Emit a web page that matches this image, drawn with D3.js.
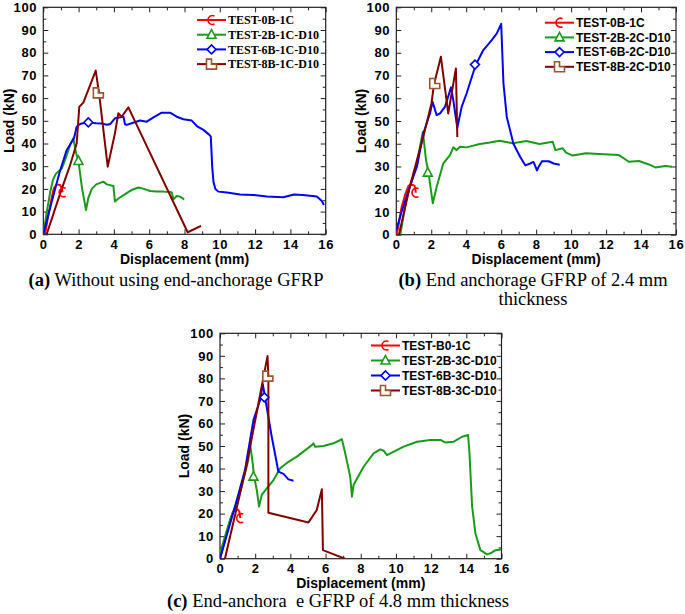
<!DOCTYPE html>
<html><head><meta charset="utf-8">
<script src="https://cdn.jsdelivr.net/npm/d3@7/dist/d3.min.js"></script>
<style>
body{margin:0;background:#fff;}
svg{display:block;}
.tick text{font-family:"Liberation Sans",Arial,sans-serif;font-weight:bold;font-size:13px;fill:#000;letter-spacing:0.7px;}
</style></head>
<body>
<svg id="chart" width="685" height="614"></svg>
<script>
// ---------- tick values ----------
const xTicks = [0, 2, 4, 6, 8, 10, 12, 14, 16];
const xMinor = [1, 3, 5, 7, 9, 11, 13, 15];
const yTicks = [0, 10, 20, 30, 40, 50, 60, 70, 80, 90, 100];
const yMinor = [5, 15, 25, 35, 45, 55, 65, 75, 85, 95];

// ---------- series names ----------
const namesA = ["TEST-0B-1C", "TEST-2B-1C-D10", "TEST-6B-1C-D10", "TEST-8B-1C-D10"];
const namesB = ["TEST-0B-1C", "TEST-2B-2C-D10", "TEST-6B-2C-D10", "TEST-8B-2C-D10"];
const namesC = ["TEST-B0-1C", "TEST-2B-3C-D10", "TEST-6B-3C-D10", "TEST-8B-3C-D10"];

// ---------- panel (a) data [displacement mm, load kN] ----------
const a_red = [[0.1,0],[0.3,9],[0.5,17],[0.6,20.3],[0.76,22],[0.95,21.7],[1.04,20.3],[1.1,18.5]];
const a_green = [[0,0],[0.2,10],[0.4,19],[0.55,24],[0.7,26.5],[0.9,28],[1.05,29],[1.2,32],[1.4,36.5],[1.55,40],[1.7,42.3],[1.85,36],[1.99,32.3],[2.2,20],[2.42,10.7],[2.55,16],[2.75,20],[3.0,22],[3.4,23.2],[3.6,22],[3.97,21.3],[4.06,14.4],[4.3,16],[4.7,18],[5.0,19.5],[5.39,20.6],[5.7,20],[6.05,19.1],[6.4,18.9],[6.8,18.8],[7.28,18.5],[7.37,15.4],[7.56,16.9],[7.75,16.6],[7.98,15.4]];
const a_blue = [[0,0],[0.3,9],[0.6,18],[0.95,28],[1.32,37],[1.74,42.3],[1.89,47.4],[2.08,48.6],[2.3,49],[2.5,49.3],[3.0,48.9],[3.3,48.8],[3.6,48.3],[3.8,48.6],[4.06,51.1],[4.54,51.8],[4.63,48.5],[4.73,48.2],[5.0,48.9],[5.48,50.1],[5.86,49.6],[6.24,51.5],[6.71,53.6],[7.18,53.6],[7.56,51.8],[7.94,50.7],[8.41,50.1],[8.7,47.7],[9.07,46],[9.41,43.8],[9.49,43],[9.57,29.8],[9.64,23.2],[9.75,20],[9.92,18.8],[10.4,18.4],[11.15,17.5],[11.9,17.3],[12.66,16.6],[13.6,16.3],[14.2,17.5],[14.7,17.3],[15.5,16.6],[15.78,14.7],[15.9,12.9]];
const a_brown = [[0.19,0],[1.0,19],[1.5,30],[1.89,40],[2.04,56.2],[2.27,58],[2.97,72.1],[3.16,62.1],[3.65,29.8],[4.06,44.5],[4.25,53.3],[4.44,51.8],[4.82,55.9],[8.18,0.9],[8.94,3.7]];
const a_marks = [[1.1,18.5],[1.99,32.3],[2.55,49.3],[3.12,62.3]];

// ---------- panel (b) data ----------
const b_red = [[0,0],[0.1,3],[0.3,12],[0.5,17.5],[0.7,21.5],[0.9,22],[1.05,21.5],[1.12,18.5]];
const b_green = [[0.23,0],[0.6,16.7],[0.9,24],[1.18,31.4],[1.52,45.3],[1.7,32.8],[1.84,27.3],[2.09,13.8],[2.31,21.1],[2.69,31.4],[3.07,35],[3.26,38.4],[3.45,37.2],[3.64,38.7],[4.02,38.4],[4.78,39.9],[5.35,40.5],[5.91,41.3],[6.67,40.2],[7.43,41.2],[8.19,39.9],[8.95,40.9],[9.1,37.2],[9.52,38],[9.71,36.1],[10.09,34.8],[10.84,35.8],[11.6,35.5],[12.74,35],[13.3,32.1],[13.88,32.4],[14.45,30.9],[14.82,29.6],[15.39,30.2],[15.77,29.9]];
const b_blue = [[0,2],[0.3,10],[0.6,17],[0.9,24],[1.18,29.9],[1.55,44.6],[1.93,53.4],[2.07,58.5],[2.31,52.6],[2.5,53.4],[2.79,56.3],[3.13,64.8],[3.26,59.2],[3.49,47],[3.74,56.2],[4.02,62.1],[4.54,74.6],[4.98,81.2],[5.46,85.6],[5.75,88.5],[6.0,92.7],[6.13,66.5],[6.32,51.8],[6.7,40],[7.09,34.2],[7.38,30.5],[7.66,31.3],[7.85,32],[8.05,28.3],[8.14,29.8],[8.33,32.3],[8.72,32.3],[9.0,31.3],[9.35,30.8]];
const b_brown = [[0.15,0],[0.8,22],[1.59,44.5],[2.01,57.7],[2.15,65.8],[2.55,78.3],[2.97,53.3],[3.41,73.1],[3.49,43]];
const b_marks = [[1.1,18.5],[1.8,27.3],[4.5,74.8],[2.2,66.5]];

// ---------- panel (c) data ----------
const c_red = [[0,0],[0.2,6],[0.5,15],[0.7,20],[0.85,22],[1.0,21.8],[1.1,21],[1.15,18]];
const c_green = [[0,2.4],[0.28,9.8],[0.57,17.2],[0.85,23],[1.23,32],[1.61,43.8],[1.71,50.9],[1.86,42.3],[1.94,36.4],[2.09,30.5],[2.22,23.1],[2.37,28.3],[2.66,31.2],[3.04,34.9],[3.42,40.1],[3.89,43],[4.37,45.3],[4.74,47.5],[5.22,50.4],[5.31,51.2],[5.41,49.7],[5.88,50],[6.45,51.2],[6.93,53],[7.12,46.7],[7.4,36.4],[7.5,27.5],[7.59,32.7],[8.16,40.8],[8.73,46.7],[9.11,48.5],[9.3,47.9],[9.49,46],[9.68,46.7],[10.44,49.7],[11.2,51.9],[11.96,52.7],[12.53,52.7],[12.81,51.5],[13.29,51.9],[13.76,54.1],[14.1,54.9],[14.18,46.7],[14.33,23.1],[14.52,11.2],[14.8,3.8],[15.18,1.9],[15.37,2.4],[15.66,3.8],[16,4.1]];
const c_blue = [[0,0],[0.85,23],[1.42,39.3],[1.9,61.5],[2.28,70.4],[2.43,77.5],[2.56,71.6],[2.94,54.1],[3.32,38.6],[3.61,37.6],[3.89,35.2],[4.18,34.6]];
const c_brown = [[0.28,0],[1.5,41],[2.7,89.9],[2.75,81],[2.75,20.4],[5.03,16.1],[5.5,21.6],[5.79,30.8],[5.85,3.8],[7.1,0]];
const c_marks = [[1.15,18],[1.9,36.4],[2.52,71.6],[2.72,81]];

// ---------- styles ----------
const lineColors = ["#ff0000", "#1a9a1a", "#0000ff", "#800000"];
const markColors = ["#ff0000", "#1a9a1a", "#0000ff", "#a0522d"];
const markTypes = ["c", "tri", "dia", "ell"];

const svg = d3.select("#chart");

function markerPath(type) {
  if (type === "c") return "M3,-4 A4.5,4.5 0 1 0 3,4";
  if (type === "tri") return "M0,-5 L4.5,3.5 L-4.5,3.5 Z";
  if (type === "dia") return "M0,-4.5 L4.5,0 L0,4.5 L-4.5,0 Z";
  return "M-5,-5 L0,-5 L0,0 L5,0 L5,5 L-5,5 Z";
}

function drawMarker(g, type, color, x, y) {
  g.append("path").attr("d", markerPath(type))
    .attr("transform", `translate(${x},${y})`)
    .attr("fill", type === "c" ? "none" : "#fff")
    .attr("stroke", color).attr("stroke-width", 1.6);
}

function panel(cfg) {
  const x = d3.scaleLinear().domain([0, 16]).range([cfg.left, cfg.right]);
  const y = d3.scaleLinear().domain([0, 100]).range([cfg.bottom, cfg.top]);
  const g = svg.append("g");
  const W = cfg.right - cfg.left, H = cfg.bottom - cfg.top;

  const cid = "clip" + cfg.id;
  svg.append("clipPath").attr("id", cid).append("rect")
    .attr("x", cfg.left).attr("y", cfg.top).attr("width", W).attr("height", H);

  const axStyle = sel => { sel.select(".domain").remove(); sel.selectAll("line").attr("stroke", "#222"); };
  g.append("g").attr("transform", `translate(0,${cfg.bottom})`)
    .call(d3.axisBottom(x).tickValues(xTicks).tickSizeInner(-5).tickSizeOuter(0).tickPadding(5).tickFormat(d3.format("d"))).call(axStyle);
  g.append("g").attr("transform", `translate(0,${cfg.bottom})`)
    .call(d3.axisBottom(x).tickValues(xMinor).tickSizeInner(-3).tickSizeOuter(0).tickFormat("")).call(axStyle);
  g.append("g").attr("transform", `translate(0,${cfg.top})`)
    .call(d3.axisTop(x).tickValues(xTicks).tickSizeInner(-5).tickSizeOuter(0).tickFormat("")).call(axStyle);
  g.append("g").attr("transform", `translate(0,${cfg.top})`)
    .call(d3.axisTop(x).tickValues(xMinor).tickSizeInner(-3).tickSizeOuter(0).tickFormat("")).call(axStyle);
  g.append("g").attr("transform", `translate(${cfg.left},0)`)
    .call(d3.axisLeft(y).tickValues(yTicks).tickSizeInner(-5).tickSizeOuter(0).tickPadding(6)).call(axStyle);
  g.append("g").attr("transform", `translate(${cfg.left},0)`)
    .call(d3.axisLeft(y).tickValues(yMinor).tickSizeInner(-3).tickSizeOuter(0).tickFormat("")).call(axStyle);
  g.append("g").attr("transform", `translate(${cfg.right},0)`)
    .call(d3.axisRight(y).tickValues(yTicks).tickSizeInner(-5).tickSizeOuter(0).tickFormat("")).call(axStyle);
  g.append("g").attr("transform", `translate(${cfg.right},0)`)
    .call(d3.axisRight(y).tickValues(yMinor).tickSizeInner(-3).tickSizeOuter(0).tickFormat("")).call(axStyle);

  g.append("rect").attr("x", cfg.left).attr("y", cfg.top).attr("width", W).attr("height", H)
    .attr("fill", "none").attr("stroke", "#222").attr("stroke-width", 1.2);

  const line = d3.line().x(d => x(d[0])).y(d => y(d[1]));
  const lg = g.append("g").attr("clip-path", `url(#${cid})`);
  cfg.series.forEach((s, i) => {
    lg.append("path").datum(s).attr("d", line).attr("fill", "none")
      .attr("stroke", lineColors[i]).attr("stroke-width", 2).attr("stroke-linejoin", "round");
  });
  cfg.marks.forEach((m, i) => drawMarker(g, markTypes[i], markColors[i], x(m[0]), y(m[1])));

  const leg = g.append("g");
  cfg.names.forEach((n, i) => {
    const yy = cfg.legY + i * cfg.legDy;
    leg.append("line").attr("x1", cfg.legX).attr("x2", cfg.legX + 29).attr("y1", yy).attr("y2", yy)
      .attr("stroke", lineColors[i]).attr("stroke-width", 2);
    drawMarker(leg, markTypes[i], markColors[i], cfg.legX + 14.5, yy);
    leg.append("text").attr("x", cfg.legX + 31).attr("y", yy).attr("dy", "0.35em")
      .attr("font-family", cfg.legFont).attr("font-weight", "bold").attr("font-size", cfg.legSize)
      .text(n);
  });

  g.append("text").attr("transform", `translate(${cfg.yTitleX},${(cfg.top + cfg.bottom) / 2}) rotate(-90)`)
    .attr("text-anchor", "middle").attr("dy", "0.35em")
    .attr("font-family", "'Liberation Sans',Arial,sans-serif").attr("font-weight", "bold").attr("font-size", 14)
    .text("Load (kN)");
  g.append("text").attr("x", (cfg.left + cfg.right) / 2).attr("y", cfg.bottom + 29.5)
    .attr("text-anchor", "middle")
    .attr("font-family", "'Liberation Sans',Arial,sans-serif").attr("font-weight", "bold").attr("font-size", 14)
    .text("Displacement (mm)");

  const cap = g.append("text").attr("text-anchor", "middle")
    .attr("font-family", "'Liberation Serif','Times New Roman',serif").attr("font-size", 18.5)
    .style("white-space", "pre");
  cfg.caption.forEach((ln, k) => {
    const t = cap.append("tspan").attr("x", cfg.capX).attr("y", cfg.capY + k * 19);
    if (ln[0]) t.append("tspan").attr("font-weight", "bold").text(ln[0]);
    t.append("tspan").text(ln[1]);
  });
}

panel({id: "a", left: 43.3, right: 325.7, top: 7.3, bottom: 234.3,
  series: [a_red, a_green, a_blue, a_brown], marks: a_marks, names: namesA,
  legX: 197, legY: 20, legDy: 14.7, legFont: "'Liberation Serif','Times New Roman',serif", legSize: 12,
  yTitleX: 9, capX: 176, capY: 286, caption: [["(a)", " Without using end-anchorage GFRP"]]});

panel({id: "b", left: 396.3, right: 676, top: 7.3, bottom: 234.7,
  series: [b_red, b_green, b_blue, b_brown], marks: b_marks, names: namesB,
  legX: 545, legY: 22.7, legDy: 14.7, legFont: "'Liberation Sans',Arial,sans-serif", legSize: 12,
  yTitleX: 361, capX: 533, capY: 286, caption: [["(b)", " End anchorage GFRP of 2.4 mm"], ["", "thickness"]]});

panel({id: "c", left: 220, right: 501.5, top: 333.3, bottom: 558.7,
  series: [c_red, c_green, c_blue, c_brown], marks: c_marks, names: namesC,
  legX: 371, legY: 345.5, legDy: 15, legFont: "'Liberation Sans',Arial,sans-serif", legSize: 12,
  yTitleX: 184, capX: 338, capY: 607, caption: [["(c)", " End-anchora  e GFRP of 4.8 mm thickness"]]});
</script>
</body></html>
